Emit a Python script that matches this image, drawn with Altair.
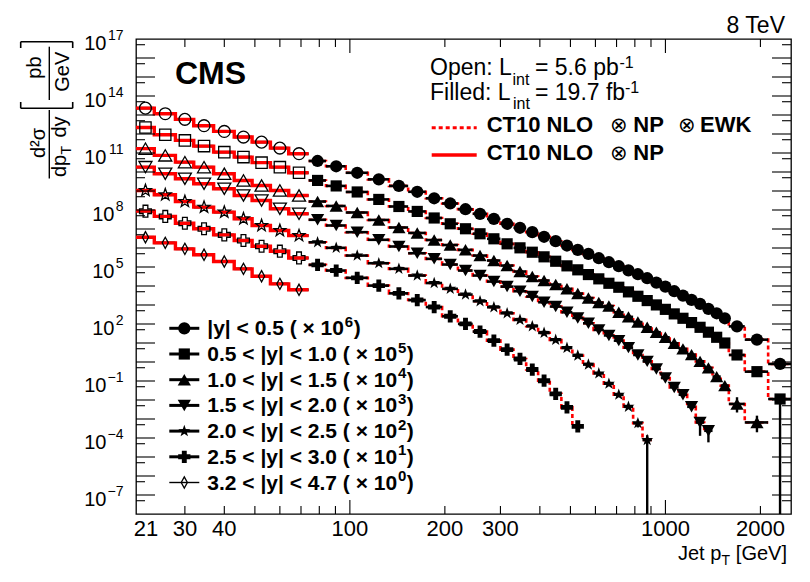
import altair as alt
import pandas as pd

FONT = "Liberation Sans"

# ---------------- data ----------------
edges_open = [21, 24, 28, 32, 37, 43, 49, 56, 64, 74]
edges_filled = [74, 84, 97, 114, 133, 153, 174, 196, 220, 245, 272, 300, 330, 362, 395,
                430, 468, 507, 548, 592, 638, 686, 737, 790, 846, 905, 967, 1032, 1101,
                1172, 1248, 1327, 1410, 1497, 1588, 1784, 2116, 2500]

series = ["s1", "s2", "s3", "s4", "s5", "s6", "s7"]
legend_text = ["|y| < 0.5", "0.5 < |y| < 1.0", "1.0 < |y| < 1.5", "1.5 < |y| < 2.0",
               "2.0 < |y| < 2.5", "2.5 < |y| < 3.0", "3.2 < |y| < 4.7"]
legend_exp = ["6", "5", "4", "3", "2", "1", "0"]

# open markers: 5.6 pb^-1 low-pT data
y1_open = [2.3e13, 1.17e13, 5.9e12, 2.74e12, 1.37e12, 6.9e11, 3.74e11, 1.81e11, 9.2e10]
y2_open = [2.2e12, 9.2e11, 4.6e11, 2.31e11, 1.11e11, 6.1e10, 3.1e10, 1.8e10, 9.1e9]
y3_open = [1.7e11, 7.5e10, 3.3e10, 1.8e10, 8.1e9, 3.6e9, 1.96e9, 1.07e9, 5.8e8]
y4_open = [1.8e10, 8.1e9, 4.4e9, 2.4e9, 1.31e9, 5.8e8, 3.18e8, 1.16e8, 6.3e7]
y5_open = [1.07e9, 6.3e8, 2.81e8, 1.41e8, 7.7e7, 3.44e7, 1.53e7, 8.3e6, 4.5e6]
y6_open = [8.7e7, 4.6e7, 2.0e7, 1.03e7, 4.9e6, 2.48e6, 1.24e6, 6.8e5, 3.0e5]
y7_open = [3.7e6, 1.87e6, 9.0e5, 4.4e5, 1.94e5, 8.0e4, 3.26e4, 1.3e4, 6.3e3]

# filled markers: 19.7 fb^-1 data
y1_filled = [3.8e10, 2.0e10, 9.1e9, 4.1e9, 1.85e9, 9.1e8, 4.15e8, 2.2e8, 1.1e8, 6.3e7,
             3.4e7, 1.88e7, 1.16e7, 6.8e6, 3.9e6, 2.28e6, 1.35e6, 8.0e5, 4.9e5, 2.9e5,
             1.78e5, 1.1e5, 6.7e4, 4.16e4, 2.56e4, 1.52e4, 9.3e3, 5.3e3, 3.13e3, 1.86e3,
             1.15e3, 620, 366, 200, 75, 15, 0.79]
y2_filled = [3.6e9, 1.85e9, 8.9e8, 3.6e8, 1.53e8, 8.4e7, 3.8e7, 1.88e7, 1.03e7, 5.6e6,
             3.05e6, 1.66e6, 1.02e6, 6.0e5, 3.43e5, 2.01e5, 1.15e5, 7.1e4, 4.0e4, 2.38e4,
             1.39e4, 8.6e3, 4.9e3, 2.88e3, 1.71e3, 1.01e3, 590, 340, 200, 119,
             67, 37, 20, 10, 2.35, 0.31, 0.0113]
y3_filled = [2.8e8, 1.63e8, 7.4e7, 3.0e7, 1.2e7, 6.2e6, 2.63e6, 1.44e6, 8.0e5, 4.0e5,
             2.19e5, 1.19e5, 5.8e4, 3.14e4, 1.94e4, 1.19e4, 7.1e3, 4.0e3, 2.32e3, 1.34e3,
             880, 413, 237, 126, 67, 37, 19.9, 9.6, 4.9, 2.44,
             1.08, 0.49, 0.17, 0.057, 6.2e-3, 6.6e-4]
y4_filled = [3.05e7, 1.53e7, 6.8e6, 2.7e6, 1.2e6, 5.3e5, 2.69e5, 1.35e5, 6.5e4, 3.55e4,
             1.71e4, 9.3e3, 5.3e3, 2.78e3, 1.39e3, 830, 413, 209, 109, 49,
             25, 13.3, 5.7, 2.35, 1.08, 0.43, 0.145, 0.046, 0.019, 4.4e-3,
             6.6e-4, 2.4e-4]
y5_filled = [2.0e6, 1.02e6, 4.0e5, 1.58e5, 8.0e4, 3.55e4, 1.43e4, 7.1e3, 3.54e3, 1.57e3,
             760, 366, 164, 76, 34, 14.5, 5.5, 2.16, 0.73, 0.25,
             0.072, 0.019, 4.4e-3, 6.0e-4, 7.8e-5]
y6_filled = [1.3e5, 6.5e4, 2.69e4, 1.05e4, 4.1e3, 1.82e3, 780, 254, 101, 40,
             13.3, 4.5, 1.45, 0.40, 0.104, 0.021, 4.1e-3, 4.1e-4]
y7_filled = []

# vertical error bars that are visible
err_series = ["s3", "s3", "s4", "s4", "s5", "s5", "s2"]
err_pt = [1686, 1950, 1287.5, 1368.5, 818, 875.5, 2308]
err_lo = [2.2e-3, 2.0e-4, 1.3e-4, 5.9e-5, 3.6e-4, 1e-9, 1e-9]
err_hi = [1.4e-2, 1.5e-3, 1.2e-3, 4.5e-4, 9.0e-4, 1.4e-4, 0.02]

open_vals = dict(zip(series, [y1_open, y2_open, y3_open, y4_open, y5_open, y6_open, y7_open]))
filled_vals = dict(zip(series, [y1_filled, y2_filled, y3_filled, y4_filled, y5_filled,
                                y6_filled, y7_filled]))

ytick_labels = [1e17, 1e14, 1e11, 1e8, 1e5, 1e2, 1e-1, 1e-4, 1e-7]
ytick_sups = ["17", "14", "11", "8", "5", "2", "−1", "−4", "−7"]
xtick_labels = [30, 40, 100, 200, 300, 1000, 2000]

# ---------------- styling ----------------
STAR = ("M0,-1L0.235,-0.324L0.951,-0.309L0.38,0.124L0.588,0.809L0,0.4L-0.588,0.809"
        "L-0.38,0.124L-0.951,-0.309L-0.235,-0.324Z")
DIAMOND = "M0,-1L0.55,0L0,1L-0.55,0Z"
shapes = dict(zip(series, ["circle", "square", "triangle-up", "triangle-down", STAR, "cross", DIAMOND]))
fsize = dict(zip(series, [150, 125, 175, 175, 160, 150, 110]))
osize = dict(zip(series, [140, 128, 170, 170, 155, 140, 125]))

# Arial-bold advance widths (per 1000 em) used to place superscripts after text
AB = {" ": 278, "(": 333, ")": 333, ".": 278, "<": 584, "|": 280, "y": 556, "×": 584}


def wbold(s, size):
    return sum(AB.get(c, 556) for c in s) * size / 1000.0


W, H = 655, 475
RED = "#ff0000"

xs = alt.Scale(type="log", domain=[21, 2500], nice=False)
ys = alt.Scale(type="log", domain=[1e-8, 1e17], nice=False)

rows, steps = [], []
for s in series:
    for region, edges, vals in (("open", edges_open, open_vals[s]),
                                ("filled", edges_filled, filled_vals[s])):
        for i, v in enumerate(vals):
            lo, hi = edges[i], edges[i + 1]
            rows.append(dict(series=s, region=region, lo=lo, hi=hi, pt=(lo + hi) / 2, val=v))
            steps.append(dict(key=s + region, region=region, x=lo, y=v, ord=2 * i))
            steps.append(dict(key=s + region, region=region, x=hi, y=v, ord=2 * i + 1))
pts = pd.DataFrame(rows)
stp = pd.DataFrame(steps)
err = pd.DataFrame(dict(series=err_series, pt=err_pt, lo=err_lo, hi=err_hi))

one = pd.DataFrame({"a": [0]})


def txt(s, x, y, size, weight="normal", align="left", angle=0, baseline="alphabetic"):
    return alt.Chart(one).mark_text(text=s, fontSize=size, fontWeight=weight, align=align,
                                    angle=angle, baseline=baseline, font=FONT,
                                    color="black").encode(x=alt.value(x), y=alt.value(y))


def seg(x1, y1, x2, y2, width=1.3, color="black", dash=None):
    kw = dict(color=color, strokeWidth=width)
    if dash:
        kw["strokeDash"] = dash
    return alt.Chart(one).mark_rule(**kw).encode(x=alt.value(x1), y=alt.value(y1),
                                                 x2=alt.value(x2), y2=alt.value(y2))


layers = []

# theory (dashed, filled region)
layers.append(alt.Chart(stp[stp.region == "filled"]).mark_line(
    color=RED, strokeDash=[4, 3], strokeWidth=2.6, clip=True).encode(
    x=alt.X("x:Q", scale=xs, axis=None), y=alt.Y("y:Q", scale=ys, axis=None),
    detail="key:N", order="ord:Q"))
# horizontal bin-width bars
layers.append(alt.Chart(pts).mark_rule(color="black", strokeWidth=2.6, clip=True).encode(
    x=alt.X("lo:Q", scale=xs, axis=None), x2="hi:Q",
    y=alt.Y("val:Q", scale=ys, axis=None)))
# vertical error bars
layers.append(alt.Chart(err).mark_rule(color="black", strokeWidth=2.4, clip=True).encode(
    x=alt.X("pt:Q", scale=xs, axis=None),
    y=alt.Y("lo:Q", scale=ys, axis=None), y2="hi:Q"))
# theory (solid, open region)
layers.append(alt.Chart(stp[stp.region == "open"]).mark_line(
    color=RED, strokeWidth=3.4, clip=True).encode(
    x=alt.X("x:Q", scale=xs, axis=None), y=alt.Y("y:Q", scale=ys, axis=None),
    detail="key:N", order="ord:Q"))
# markers
for s in series:
    d = pts[(pts.series == s) & (pts.region == "open")]
    if len(d):
        layers.append(alt.Chart(d).mark_point(
            shape=shapes[s], size=osize[s], filled=False, color="black", strokeWidth=1.3,
            opacity=1).encode(x=alt.X("pt:Q", scale=xs, axis=None),
                              y=alt.Y("val:Q", scale=ys, axis=None)))
    d = pts[(pts.series == s) & (pts.region == "filled")]
    if len(d):
        layers.append(alt.Chart(d).mark_point(
            shape=shapes[s], size=fsize[s], filled=True, color="black",
            opacity=1).encode(x=alt.X("pt:Q", scale=xs, axis=None),
                              y=alt.Y("val:Q", scale=ys, axis=None)))

# ---------------- axes (ROOT style, inward ticks) ----------------
minor_x = [30, 40, 50, 60, 70, 80, 90, 200, 300, 400, 500, 600, 700, 800, 900, 2000]
major_x = [100, 1000]
for vals, ln in ((minor_x, 8), (major_x, 14)):
    dfv = pd.DataFrame({"t": vals})
    layers.append(alt.Chart(dfv).mark_rule(color="black", strokeWidth=1.1).encode(
        x=alt.X("t:Q", scale=xs, axis=None), y=alt.value(H), y2=alt.value(H - ln)))
    layers.append(alt.Chart(dfv).mark_rule(color="black", strokeWidth=1.1).encode(
        x=alt.X("t:Q", scale=xs, axis=None), y=alt.value(0), y2=alt.value(ln)))

long_y = [10.0 ** k for k in range(-7, 17)]
short_y = [5 * 10.0 ** k for k in range(-8, 17)]
for vals, ln in ((long_y, 19), (short_y, 9)):
    dfv = pd.DataFrame({"t": vals})
    layers.append(alt.Chart(dfv).mark_rule(color="black", strokeWidth=1.1).encode(
        y=alt.Y("t:Q", scale=ys, axis=None), x=alt.value(0), x2=alt.value(ln)))
    layers.append(alt.Chart(dfv).mark_rule(color="black", strokeWidth=1.1).encode(
        y=alt.Y("t:Q", scale=ys, axis=None), x=alt.value(W - ln), x2=alt.value(W)))

# x tick labels
layers.append(alt.Chart(pd.DataFrame({"v": xtick_labels, "l": [str(v) for v in xtick_labels]}))
              .mark_text(fontSize=22, font=FONT, align="center", baseline="alphabetic", color="black")
              .encode(x=alt.X("v:Q", scale=xs, axis=None), y=alt.value(H + 22), text="l:N"))
layers.append(alt.Chart(pd.DataFrame({"v": [21], "l": ["21"]}))
              .mark_text(fontSize=22, font=FONT, align="center", baseline="alphabetic", dx=10, color="black")
              .encode(x=alt.X("v:Q", scale=xs, axis=None), y=alt.value(H + 22), text="l:N"))

# y tick labels: 10 + superscript
ydf = pd.DataFrame({"v": ytick_labels, "s": ytick_sups,
                    "two": [len(s) > 1 for s in ytick_sups]})
layers.append(alt.Chart(ydf).mark_text(fontSize=14, font=FONT, align="right", baseline="alphabetic",
                                       dy=1, color="black")
              .encode(y=alt.Y("v:Q", scale=ys, axis=None), x=alt.value(-12.5), text="s:N"))
for two, xb in ((True, -29.5), (False, -21.5)):
    layers.append(alt.Chart(ydf[ydf.two == two]).mark_text(
        text="10", fontSize=20, font=FONT, align="right", baseline="alphabetic", dy=11, color="black")
        .encode(y=alt.Y("v:Q", scale=ys, axis=None), x=alt.value(xb)))

# x-axis title
layers += [txt("Jet p", 542, 521, 20, align="left"),
           txt("T", 585.5, 526, 14, align="left"),
           txt("[GeV]", 651, 521, 20, align="right")]

# y-axis title (rotated fraction)
layers += [txt("d²σ", -91, 104, 20, align="center", angle=270),
           seg(-86.7, 71, -86.7, 139.5, 1.4),
           txt("dp", -70.5, 138, 20, align="left", angle=270),
           txt("T", -65.5, 115.5, 14, align="left", angle=270),
           txt("dy", -70.5, 98.5, 20, align="left", angle=270),
           txt("pb", -95, 28.5, 20, align="center", angle=270),
           seg(-86.7, 7.7, -86.7, 61, 1.4),
           txt("GeV", -67, 32.7, 20, align="center", angle=270),
           seg(-115.3, 2.7, -63.3, 2.7, 1.6), seg(-115.3, 2.7, -115.3, 9, 1.6),
           seg(-63.3, 2.7, -63.3, 9, 1.6),
           seg(-115.3, 69.3, -63.3, 69.3, 1.6), seg(-115.3, 69.3, -115.3, 63, 1.6),
           seg(-63.3, 69.3, -63.3, 63, 1.6)]

# header texts
layers += [txt("CMS", 39, 44.5, 32, weight="bold"),
           txt("8 TeV", 649, -6.5, 23, align="right"),
           txt("Open: L", 294, 36, 23), txt("int", 376.5, 46, 16), txt("= 5.6 pb", 399, 36, 23),
           txt("-1", 483.5, 29, 16),
           txt("Filled: L", 294, 61, 23), txt("int", 377, 69.5, 16), txt("= 19.7 fb", 399, 61, 23),
           txt("-1", 489, 54, 16)]

# theory legend
layers += [seg(295.7, 88.7, 340.7, 88.7, 3, RED, [4, 3]),
           txt("CT10 NLO", 350.7, 92.7, 22, weight="bold"),
           txt("⊗", 473.5, 92.7, 21), txt("NP", 497.3, 92.7, 22, weight="bold"),
           txt("⊗", 542, 92.7, 21), txt("EWK", 564, 92.7, 22, weight="bold"),
           seg(295.7, 116, 340.7, 116, 3.3, RED),
           txt("CT10 NLO", 350.7, 121, 22, weight="bold"),
           txt("⊗", 473.5, 121, 21), txt("NP", 497.3, 121, 22, weight="bold")]

# rapidity legend
LX, LFS, SFS = 71.3, 21, 15
for i, (s, lab, ex) in enumerate(zip(series, legend_text, legend_exp)):
    yc = 289.3 + i * 25.7
    base = yc + 7
    last = (s == "s7")
    layers.append(seg(33.3, yc, 63.3, yc, 1.4 if last else 3))
    layers.append(alt.Chart(one).mark_point(
        shape=shapes[s], size=osize[s] if last else fsize[s], filled=not last,
        color="black", strokeWidth=1.3, opacity=1).encode(x=alt.value(48.3), y=alt.value(yc)))
    prefix = lab + " ( × 10"
    xsup = LX + wbold(prefix, LFS) + 0.8
    layers.append(txt(prefix, LX, base, LFS, weight="bold"))
    layers.append(txt(ex, xsup, base - 8.5, SFS, weight="bold"))
    layers.append(txt(" )", xsup + wbold(ex, SFS) + 0.5, base, LFS, weight="bold"))

chart = alt.layer(*layers).properties(
    width=W, height=H, autosize="none",
    padding={"left": 128, "top": 31, "right": 11, "bottom": 60},
).configure_view(stroke="black", strokeWidth=1.3)

chart.save("out.html", embed_options={"renderer": "svg", "actions": False})
